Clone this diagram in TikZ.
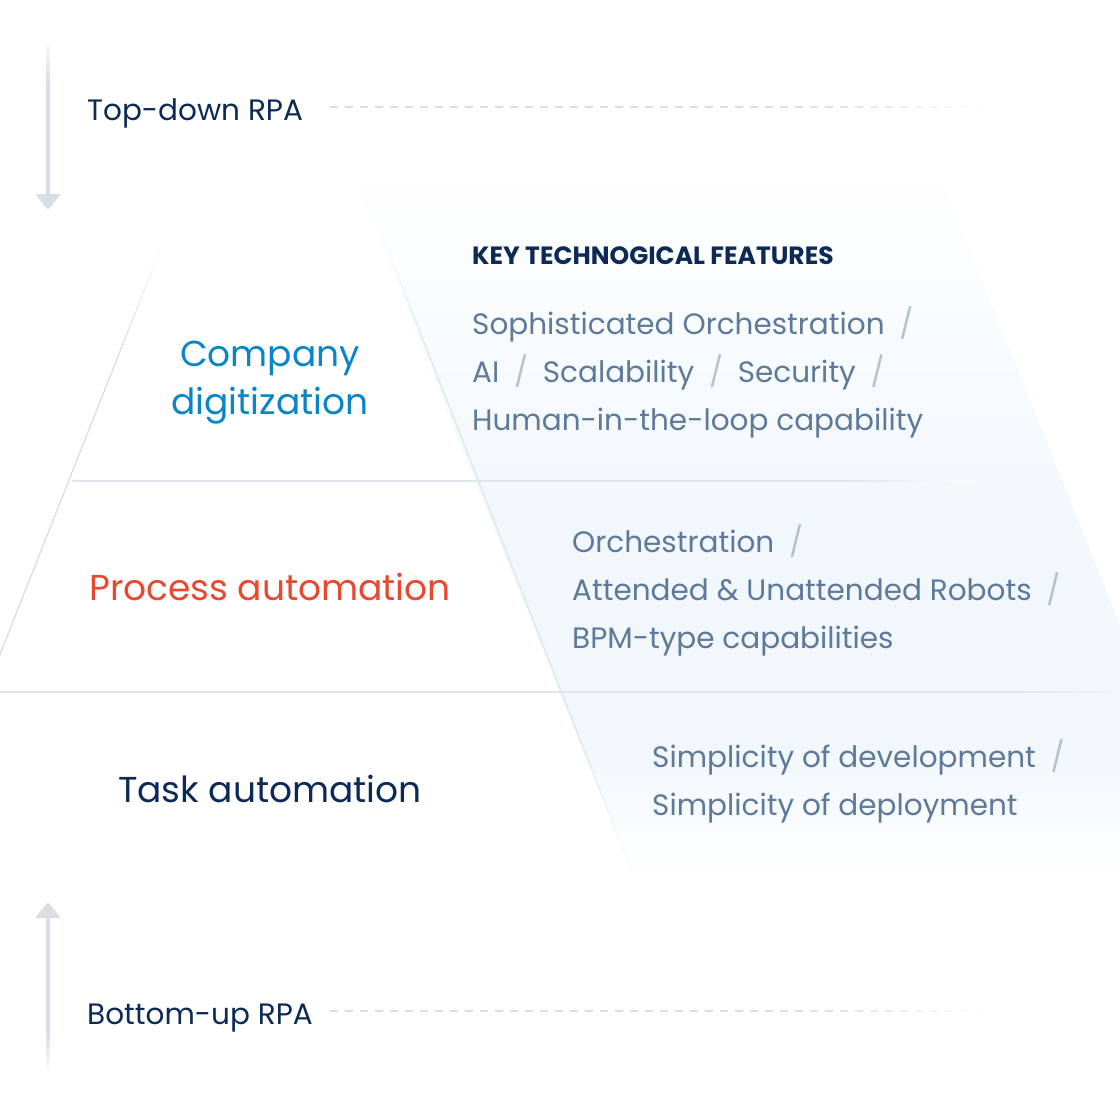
\documentclass[tikz,border=0pt]{standalone}
\usepackage{fontspec}
\setmainfont{Poppins}
\usepackage{tikz}
\usetikzlibrary{positioning}

\definecolor{navy}{HTML}{0C2A55}
\definecolor{featgray}{HTML}{5E7A9B}
\definecolor{slashgray}{HTML}{B7C1CD}
\definecolor{compblue}{HTML}{0A86C8}
\definecolor{procred}{HTML}{E8482D}
\definecolor{rulegray}{HTML}{E1E6EC}
\definecolor{dashgray}{HTML}{DADFE6}
\definecolor{arrowgray}{HTML}{D9DEE6}
\definecolor{bandblue}{HTML}{F1F7FB}

\pgfdeclareverticalshading{bandfade}{100bp}{color(0bp)=(white); color(25bp)=(white);
  color(34bp)=(bandblue); color(49bp)=(bandblue); color(75bp)=(white); color(100bp)=(white)}
\pgfdeclarehorizontalshading{rulefade}{100bp}{color(0bp)=(rulegray); color(25bp)=(rulegray);
  color(68bp)=(rulegray); color(75bp)=(white); color(100bp)=(white)}
\pgfdeclareverticalshading{tailfade}{100bp}{color(0bp)=(arrowgray); color(25bp)=(arrowgray);
  color(62bp)=(arrowgray); color(75bp)=(white); color(100bp)=(white)}
\pgfdeclareverticalshading{edgefade}{100bp}{color(0bp)=(white); color(25bp)=(white);
  color(35bp)=(rulegray); color(66bp)=(rulegray); color(75bp)=(white); color(100bp)=(white)}

\newcommand{\divider}{\hspace{0.5em}{\color{slashgray}/}\hspace{0.5em}}

\tikzset{
  basic/.style  = {inner sep=0pt, font=\fontsize{29.5}{34}\selectfont},
  side/.style   = {basic, text=navy, anchor=base west},
  layer/.style  = {basic, font=\fontsize{36}{42}\selectfont, anchor=base},
  feat/.style   = {basic, text=featgray, anchor=base west},
  key/.style    = {basic, font=\fontsize{25}{30}\selectfont\bfseries, text=navy,
                   anchor=base west},
  dashline/.style = {line width=1.5pt},
  head/.style   = {fill=arrowgray, rounded corners=2pt}
}

\begin{document}
\begin{tikzpicture}[x=1pt,y=-1pt]
\useasboundingbox (0,0) rectangle (1120,1120);

% band behind the feature texts, pyramid edges, rules
\shade[shading=bandfade] (348,163) -- (935,163) -- (1221,877) -- (634,877) -- cycle;
\shade[shading=tailfade] (163.3,240) -- (164.7,240) -- (-2.3,662) -- (-3.7,662) -- cycle;
\shade[shading=edgefade] (377.3,225) -- (378.7,225) -- (634.7,877) -- (633.3,877) -- cycle;
\shade[shading=rulefade] (72,480.3) rectangle (975,481.7);
\shade[shading=rulefade] (0,691.3) rectangle (1180,692.7);

% arrows on the left
\shade[shading=tailfade] (46,40) rectangle (50,196);
\fill[head] (35,194) -- (61,194) -- (48,210) -- cycle;
\shade[shading=tailfade, shading angle=180] (46,916) rectangle (50,1074);
\fill[head] (35,918) -- (61,918) -- (48,902) -- cycle;

\node[side] (td) at (87,120) {Top-down RPA};
\node[side] (bu) at (87,1024) {Bottom-up RPA};
\coordinate (tdstart) at (330,107);
\coordinate (bustart) at (330,1011);

\node[key] (key) at (472,264) {KEY TECHNOGICAL FEATURES};

\node[layer, text=compblue] (c1) at (270,366) {Company};
\node[layer, text=compblue] (c2) at ([yshift=-48pt]c1.base) {digitization};
\node[layer, text=procred] (p) at (270,600) {Process automation};
\node[layer, text=navy] (t) at (270,802) {Task automation};

\node[feat] (f1) at (472,334) {Sophisticated Orchestration\divider};
\node[feat] (f2) at ([yshift=-48pt]f1.base west) {AI\divider Scalability\divider Security\divider};
\node[feat] (f3) at ([yshift=-48pt]f2.base west) {Human-in-the-loop capability};

\node[feat] (g1) at (572,552) {Orchestration\divider};
\node[feat] (g2) at ([yshift=-48pt]g1.base west) {Attended \& Unattended Robots\divider};
\node[feat] (g3) at ([yshift=-48pt]g2.base west) {BPM-type capabilities};

\node[feat] (h1) at (652,767) {Simplicity of development\divider};
\node[feat] (h2) at ([yshift=-48pt]h1.base west) {Simplicity of deployment};

\foreach \k in {0,...,43}{
  \pgfmathtruncatemacro\tone{min(100,(44-\k)*8)}
  \draw[dashline, dashgray!\tone!white] ([xshift=\k*15pt]tdstart) -- ++(8,0);
  \draw[dashline, dashgray!\tone!white] ([xshift=\k*15pt]bustart) -- ++(8,0);
}

\end{tikzpicture}
\end{document}
